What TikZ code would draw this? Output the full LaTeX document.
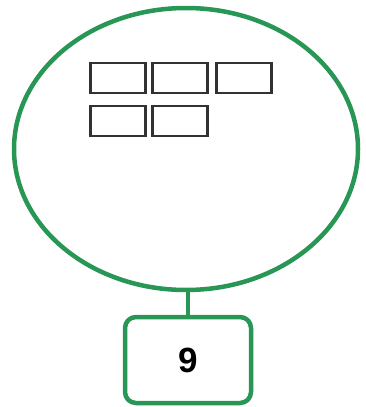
\documentclass[tikz,border=0pt]{standalone}
\usepackage{fontspec}
\setmainfont{Liberation Sans}
\usetikzlibrary{shapes.geometric}
\definecolor{ringgreen}{RGB}{40,150,85}
\definecolor{slotgray}{RGB}{50,50,50}
\begin{document}
\begin{tikzpicture}[x=1pt,y=-1pt,
  ring/.style={draw=ringgreen,line width=4.5pt},
  slot/.style={draw=slotgray,line width=2.5pt,minimum width=55pt,minimum height=30pt,inner sep=0pt},
  numbox/.style={draw=ringgreen,line width=4.5pt,rounded corners=11pt,minimum width=126pt,minimum height=86pt,inner sep=0pt,font=\fontsize{35}{40}\selectfont\bfseries}]
\useasboundingbox (0,0) rectangle (365,407);
\node[ring,ellipse,minimum width=344pt,minimum height=282pt,inner sep=0pt] (e) at (186,149) {};
\node[slot] (s1) at (118,78) {};
\node[slot] (s2) at (180,78) {};
\node[slot] (s3) at (244,78) {};
\node[slot] (s4) at (118,121) {};
\node[slot] (s5) at (180,121) {};
\node[numbox] (n) at (188,360) {9};
\draw[ring] (e.south -| n.north) -- (n.north);
\end{tikzpicture}
\end{document}
